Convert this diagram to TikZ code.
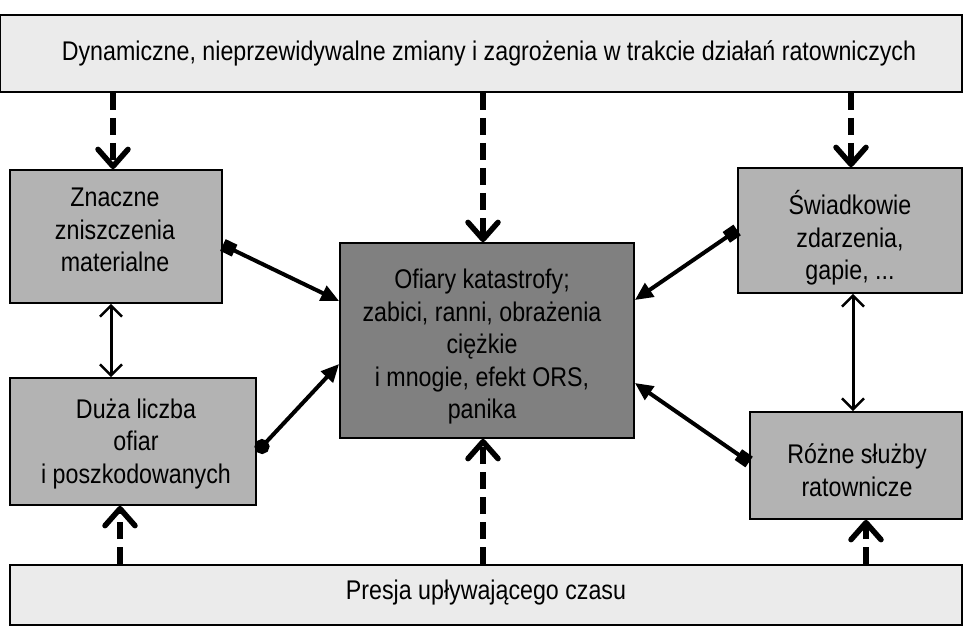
\documentclass[tikz,border=0pt]{standalone}
\usepackage{fontspec}
\setmainfont{Liberation Sans}[FakeStretch=0.86]
\usetikzlibrary{arrows.meta,calc}
\definecolor{lightbox}{HTML}{EBEBEB}
\definecolor{midbox}{HTML}{B3B3B3}
\definecolor{darkbox}{HTML}{808080}
\begin{document}
\begin{tikzpicture}[x=1pt,y=-1pt,
  box/.style={draw=black,line width=1.8pt,rectangle,inner sep=0pt},
  txt/.style={align=center,inner sep=0pt,font=\fontsize{27}{32.5}\selectfont},
  dasharrow/.style={line width=6pt,dash pattern=on 17pt off 8pt,-{Straight Barb[length=17pt,width=30pt,line width=5.5pt,round]}},
  bothhead/.style={line width=3pt,{Straight Barb[length=11pt,width=22pt,line width=2.5pt]}-{Straight Barb[length=11pt,width=22pt,line width=2.5pt]}},
  solidarrow/.style={line width=4pt},
]
\useasboundingbox (0,0) rectangle (964,643);
\node[box,fill=lightbox,minimum width=962pt,minimum height=77pt] (top) at (481,53.5) {};
\node[box,fill=lightbox,minimum width=952pt,minimum height=60pt] (bot) at (486,595) {};
\node[box,fill=midbox,minimum width=212pt,minimum height=133pt] (zn) at (116,236.5) {};
\node[box,fill=midbox,minimum width=246pt,minimum height=127pt] (du) at (133,441.5) {};
\node[box,fill=darkbox,minimum width=294pt,minimum height=195pt] (of) at (487,340.5) {};
\node[box,fill=midbox,minimum width=224pt,minimum height=125pt] (sw) at (850,230.5) {};
\node[box,fill=midbox,minimum width=212pt,minimum height=107pt] (rz) at (856,465.5) {};
% texts
\node[txt] (topt) at (489,53) {Dynamiczne, nieprzewidywalne zmiany i zagrożenia w trakcie działań ratowniczych};
\node[txt] (bott) at (486,593) {Presja upływającego czasu};
\node[txt] (znt) at (115,230) {Znaczne\\zniszczenia\\materialne};
\node[txt] (dut) at (136,444) {Duża liczba\\ofiar\\i poszkodowanych};
\node[txt] (oft) at (482,347) {Ofiary katastrofy;\\zabici, ranni, obrażenia\\ciężkie\\i mnogie, efekt ORS,\\panika};
\node[txt] (swt) at (850,238) {Świadkowie\\zdarzenia,\\gapie, ...};
\node[txt] (rzt) at (857,470) {Różne służby\\ratownicze};
% dashed arrows from top
\draw[dasharrow] (top.south -| 113,0) -- (zn.north -| 113,0);
\draw[dasharrow] (top.south -| 483,0) -- (of.north -| 483,0);
\draw[dasharrow] (top.south -| 851,0) -- (sw.north -| 851,0);
% dashed arrows from bottom
\draw[dasharrow] (bot.north -| 120,0) -- (du.south -| 120,0);
\draw[dasharrow] (bot.north -| 483,0) -- (of.south -| 483,0);
\draw[dasharrow] (bot.north -| 866,0) -- (rz.south -| 866,0);
% vertical double arrows
\draw[bothhead] (zn.south -| 111,0) -- (du.north -| 111,0);
\draw[bothhead] (sw.south -| 853,0) -- (rz.north -| 853,0);
% solid arrows to centre
\draw[solidarrow,{Square[length=13pt,width=13pt]}-{Triangle[length=18pt,width=16pt]}] (zn.east |- 0,245) -- (of.west |- 0,301);
\draw[solidarrow,{Circle[length=15pt]}-{Triangle[length=18pt,width=16pt]}] (du.east |- 0,452) -- (of.west |- 0,364);
\draw[solidarrow,{Square[length=13pt,width=13pt]}-{Triangle[length=18pt,width=16pt]}] (sw.west |- 0,230) -- (of.east |- 0,300);
\draw[solidarrow,{Square[length=13pt,width=13pt]}-{Triangle[length=18pt,width=16pt]}] (rz.west |- 0,462) -- (of.east |- 0,383);
\end{tikzpicture}
\end{document}
